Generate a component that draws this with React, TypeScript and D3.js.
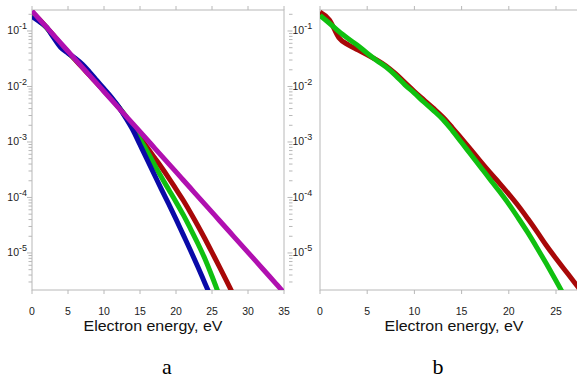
import React, { useEffect, useRef } from 'react';
import * as d3 from 'd3';

// Electron energy grid, eV
const energy = [
  0, 1, 2, 3, 4, 5, 6, 7, 8, 9, 10, 11, 12, 13, 14, 15, 16, 17,
  18, 19, 20, 21, 22, 23, 24, 25, 26, 27, 28, 29, 30, 31, 32, 33, 34, 35,
];

// log10 of the distribution
const blueA = [-0.74, -0.83, -0.93, -1.12, -1.3, -1.4, -1.49, -1.6, -1.74, -1.89, -2.04, -2.19, -2.36, -2.56, -2.78, -3.05, -3.32, -3.59, -3.86, -4.12, -4.39, -4.67, -4.95, -5.24, -5.54, -5.84];
const greenA = [-0.7, -0.82, -0.94, -1.1, -1.26, -1.39, -1.51, -1.64, -1.78, -1.92, -2.06, -2.21, -2.36, -2.53, -2.72, -2.95, -3.17, -3.41, -3.64, -3.86, -4.08, -4.31, -4.56, -4.82, -5.1, -5.42, -5.76];
const redA = [-0.66, -0.79, -0.93, -1.08, -1.24, -1.38, -1.52, -1.66, -1.8, -1.94, -2.08, -2.22, -2.37, -2.54, -2.73, -2.92, -3.1, -3.28, -3.46, -3.65, -3.85, -4.05, -4.27, -4.5, -4.74, -4.99, -5.24, -5.5, -5.76];
const magentaA = [-0.64, -0.785, -0.93, -1.075, -1.22, -1.365, -1.51, -1.655, -1.8, -1.945, -2.09, -2.235, -2.38, -2.525, -2.67, -2.815, -2.96, -3.105, -3.25, -3.395, -3.54, -3.685, -3.83, -3.975, -4.12, -4.265, -4.41, -4.555, -4.7, -4.845, -4.99, -5.135, -5.28, -5.425, -5.57, -5.715];

// log10 of the distribution
const redB = [-0.66, -0.8, -1.12, -1.25, -1.34, -1.43, -1.52, -1.63, -1.77, -1.93, -2.09, -2.24, -2.39, -2.55, -2.74, -2.94, -3.14, -3.35, -3.55, -3.74, -3.94, -4.15, -4.38, -4.62, -4.87, -5.1, -5.32, -5.54, -5.76];
const greenB = [-0.72, -0.86, -1.01, -1.14, -1.26, -1.4, -1.53, -1.65, -1.8, -1.97, -2.12, -2.28, -2.43, -2.59, -2.79, -3.01, -3.23, -3.45, -3.67, -3.89, -4.12, -4.37, -4.63, -4.91, -5.2, -5.5, -5.81];

const xTicksA = [0, 5, 10, 15, 20, 25, 30, 35];
const xTicksB = [0, 5, 10, 15, 20, 25];
const yDecades = [-1, -2, -3, -4, -5];

const BLUE = '#0a0aa8';
const GREEN = '#10c010';
const RED = '#a80808';
const MAGENTA = '#b010b0';
const FRAME = '#b8b8b8';
const FONT = '"Liberation Sans", Arial, sans-serif';

type Series = { values: number[]; colour: string };

const App = () => {
  const ref = useRef<SVGSVGElement>(null);

  useEffect(() => {
    const svg = d3.select(ref.current);
    svg.selectAll('*').remove();

    const top = 10;
    const bottom = 290;
    const y = d3.scaleLog().domain([2.15e-6, 0.239]).range([bottom, top]);

    const drawPanel = (
      id: string,
      x: d3.ScaleLinear<number, number>,
      left: number,
      right: number,
      xTicks: number[],
      series: Series[],
      labelX: number,
      labelAnchor: string,
      tickX: number,
      title: string,
      axisTitleX: number,
      titleX: number,
    ) => {
      const g = svg.append('g');

      g.append('clipPath').attr('id', id)
        .append('rect')
        .attr('x', left).attr('y', top)
        .attr('width', right - left).attr('height', bottom - top);

      // frame
      g.append('rect')
        .attr('x', left).attr('y', top)
        .attr('width', right - left).attr('height', bottom - top)
        .attr('fill', 'none').attr('stroke', FRAME).attr('stroke-width', 1);

      // x ticks on top and bottom
      xTicks.forEach(t => {
        g.append('line')
          .attr('x1', x(t)).attr('x2', x(t)).attr('y1', top - 4).attr('y2', top)
          .attr('stroke', FRAME);
        g.append('line')
          .attr('x1', x(t)).attr('x2', x(t)).attr('y1', bottom).attr('y2', bottom + 4)
          .attr('stroke', FRAME);
        g.append('text')
          .attr('x', x(t)).attr('y', bottom + 25)
          .attr('text-anchor', 'middle')
          .attr('font-family', FONT).attr('font-size', 10.5).attr('fill', '#222')
          .text(t);
      });

      // log ticks on the y axis
      const [lo, hi] = y.domain();
      for (let d = -6; d <= 0; d++) {
        for (let k = 1; k <= 9; k++) {
          const v = k * Math.pow(10, d);
          if (v < lo || v > hi) continue;
          g.append('line')
            .attr('x1', tickX - (k === 1 ? 5 : 3.5)).attr('x2', tickX)
            .attr('y1', y(v)).attr('y2', y(v))
            .attr('stroke', FRAME);
        }
      }

      yDecades.forEach(d => {
        const t = g.append('text')
          .attr('x', labelX).attr('y', y(Math.pow(10, d)) + 3.5)
          .attr('text-anchor', labelAnchor)
          .attr('font-family', FONT).attr('font-size', 10.5).attr('fill', '#222');
        t.append('tspan').text('10');
        t.append('tspan').attr('dy', -5).attr('font-size', 9).text(String(d));
      });

      // curves
      const line = d3.line<number>()
        .x((_, i) => x(energy[i]))
        .y(v => y(Math.pow(10, v)))
        .curve(d3.curveMonotoneX);

      const plot = g.append('g').attr('clip-path', `url(#${id})`);
      series.forEach(s => {
        plot.append('path')
          .attr('d', line(s.values))
          .attr('fill', 'none')
          .attr('stroke', s.colour)
          .attr('stroke-width', 5);
      });

      g.append('text')
        .attr('x', axisTitleX).attr('y', 331)
        .attr('text-anchor', 'middle')
        .attr('font-family', FONT).attr('font-size', 14.5).attr('fill', '#111')
        .attr('textLength', 139).attr('lengthAdjust', 'spacingAndGlyphs')
        .text('Electron energy, eV');

      g.append('text')
        .attr('x', titleX).attr('y', 374)
        .attr('text-anchor', 'middle')
        .attr('font-family', '"Liberation Serif", "Times New Roman", serif')
        .attr('font-size', 22).attr('fill', '#000')
        .text(title);
    };

    const xA = d3.scaleLinear().domain([0, 35]).range([32, 284]);
    drawPanel('clip-a', xA, 32, 284, xTicksA, [
      { values: redA, colour: RED },
      { values: greenA, colour: GREEN },
      { values: blueA, colour: BLUE },
      { values: magentaA, colour: MAGENTA },
    ], 27, 'end', 32, 'a', 153, 167);

    const xB = d3.scaleLinear().domain([0, 25]).range([320, 556]);
    drawPanel('clip-b', xB, 320, 578, xTicksB, [
      { values: redB, colour: RED },
      { values: greenB, colour: GREEN },
    ], 292.5, 'start', 292.5, 'b', 454, 438);
  });

  return (
    <svg
      ref={ref}
      width={577}
      height={381}
      style={{ position: 'absolute', left: 0, top: 0, background: '#fff' }}
    />
  );
};

export default App;
